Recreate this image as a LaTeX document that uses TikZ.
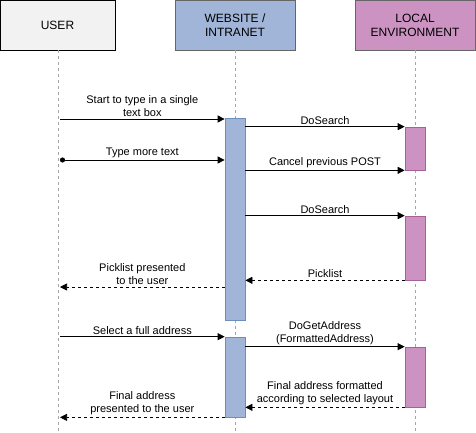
\documentclass[tikz,border=0pt]{standalone}
\usepackage{fontspec}
\setmainfont{Liberation Sans}
\usetikzlibrary{arrows.meta,positioning}

\definecolor{usergray}{HTML}{F2F2F2}
\definecolor{webblue}{HTML}{A0B5D8}
\definecolor{webline}{HTML}{6C8EBF}
\definecolor{localpink}{HTML}{CC93C2}
\definecolor{localline}{HTML}{A8609A}

\tikzset{
  head/.style={draw, line width=0.8pt, minimum width=120pt, minimum height=50pt, align=center, font=\fontsize{12}{14}\selectfont},
  life/.style={draw=black!35, dashed, line width=0.6pt},
  act/.style={draw, line width=0.7pt, minimum width=20pt, inner sep=0pt},
  msg/.style={-{Triangle[length=7pt,width=7pt]}, line width=0.7pt},
  ret/.style={msg, dashed},
  lbl/.style={align=center, font=\fontsize{11}{13}\selectfont, inner sep=2pt}
}

\begin{document}
\begin{tikzpicture}[x=1pt, y=-1pt]
            
            \useasboundingbox (0,0) rectangle (476,432);
            
            % Nodes
            
            \node[head, fill=usergray, draw=black, minimum width=115pt] (user) at (57.5,25) {USER};
            \node[head, fill=webblue, draw=black!60] (web) at (235,25) {WEBSITE /\\INTRANET};
            \node[head, fill=localpink, draw=black!60] (local) at (415,25) {LOCAL\\ENVIRONMENT};
            
            \draw[life] (user.south -| 58,0) -- (58,432);
            \draw[life] (web.south) -- (web.south |- 0,432);
            \draw[life] (local.south) -- (local.south |- 0,432);
            
            \node[act, fill=webblue, draw=webline, minimum height=202pt] (w1) at (235,219) {};
            \node[act, fill=webblue, draw=webline, minimum height=80pt] (w2) at (235,377) {};
            \node[act, fill=localpink, draw=localline, minimum height=43pt] (l1) at (415,148.5) {};
            \node[act, fill=localpink, draw=localline, minimum height=64pt] (l2) at (415,248) {};
            \node[act, fill=localpink, draw=localline, minimum height=60pt] (l3) at (415,377) {};
            
            \coordinate (u1) at (60,119);
            \coordinate (u2) at (60,160);
            \coordinate (u3) at (60,287);
            \coordinate (ux) at (60,0);
            
            % Edges
            
            \draw[msg] (u1) -- node[lbl, above] {Start to type in a single\\text box} (u1 -| w1.west);
            \draw[msg] (l1.north west -| w1.east) -- node[lbl, above] {DoSearch} (l1.north west);
            \draw[msg, {Circle[length=5pt]}-{Triangle[length=7pt,width=7pt]}] (u2) -- node[lbl, above] {Type more text} (u2 -| w1.west);
            \draw[msg] (l1.south west -| w1.east) -- node[lbl, above] {Cancel previous POST} (l1.south west);
            \draw[msg] (l2.north west -| w1.east) -- node[lbl, above] {DoSearch} (l2.north west);
            \draw[ret] (l2.south west) -- node[lbl, above] {Picklist} (l2.south west -| w1.east);
            \draw[ret] (u3 -| w1.west) -- node[lbl, above] {Picklist presented\\to the user} (u3);
            \draw[msg] (w2.north west -| ux) -- node[lbl, above] {Select a full address} (w2.north west);
            \draw[msg] (l3.north west -| w2.east) -- node[lbl, above] {DoGetAddress\\(FormattedAddress)} (l3.north west);
            \draw[ret] (l3.south west) -- node[lbl, above] {Final address formatted\\according to selected layout} (l3.south west -| w2.east);
            \draw[ret] (w2.south west) -- node[lbl, above] {Final address\\presented to the user} (w2.south west -| ux);
            
\end{tikzpicture}
\end{document}
